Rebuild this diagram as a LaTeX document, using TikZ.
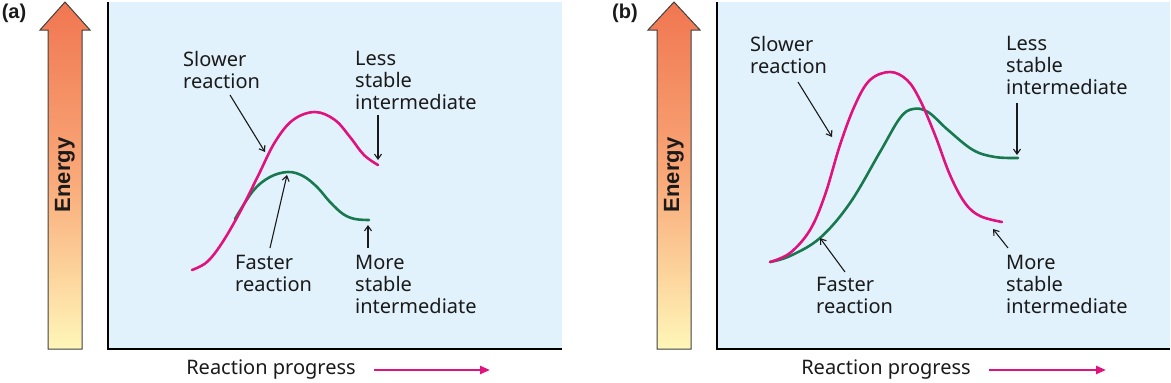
\documentclass[tikz,border=0pt]{standalone}
\usepackage{fontspec}
\setmainfont{Noto Sans}
\newfontfamily\boldfam{Liberation Sans}
\usetikzlibrary{arrows.meta,calc}
\definecolor{panelblue}{HTML}{E2F2FC}
\definecolor{magcurve}{HTML}{E0137E}
\definecolor{grncurve}{HTML}{18794F}
\definecolor{txt}{HTML}{1A1A1A}
\definecolor{entop}{HTML}{F07650}
\definecolor{enmid}{HTML}{F9A878}
\definecolor{enbot}{HTML}{FFF6B8}
\tikzset{
  lbl/.style={anchor=north west, inner sep=0pt, align=left, text=txt, font=\fontsize{20}{22}\selectfont},
  ptr/.style={draw=txt, line width=1.1pt, -{Straight Barb[length=5pt,width=7pt]}},
  mcurve/.style={draw=magcurve, line width=2.6pt, line cap=round, line join=round},
  gcurve/.style={draw=grncurve, line width=2.6pt, line cap=round, line join=round},
  axisline/.style={draw=black, line width=2pt},
  enarrow/.style={draw=black!75, line width=1pt, top color=entop, bottom color=enbot, middle color=enmid},
  entext/.style={rotate=90, inner sep=0pt, text=txt, font=\boldfam\bfseries\fontsize{22}{26}\selectfont},
  plabel/.style={inner sep=0pt, text=txt, font=\boldfam\bfseries\fontsize{20}{22}\selectfont},
  rptext/.style={inner sep=0pt, text=txt, font=\fontsize{20}{22}\selectfont},
  rparrow/.style={draw=magcurve, line width=2.6pt, -{Triangle[length=10pt,width=8pt]}}
}
\begin{document}
\begin{tikzpicture}[x=1pt,y=-1pt]
\useasboundingbox (0,0) rectangle (1171,383);
% ---------- panel (a) ----------
\node[plabel] (pa) at (14,13) {(a)};
\path[enarrow] (48,349) -- (48,30) -- (40,30) -- (65,2) -- (90,30) -- (82,30) -- (82,349) -- cycle;
\node[entext] (enA) at (65,175) {Energy};
\fill[panelblue] (108,2) rectangle (562,349);
\draw[axisline] (108,2) -- (108,349) -- (562,349);
% curves
\draw[gcurve] plot[smooth, tension=0.6] coordinates {(235,219) (253,191) (270,177) (288,172) (303,176) (317,187) (330,202) (343,214) (355,219) (369,220)};
\draw[mcurve] plot[smooth, tension=0.6] coordinates {(192,270) (207,262) (222,243) (240,212) (258,176) (275,142) (293,120) (315,112) (335,120) (350,137) (364,155) (378,165)};
% labels
\node[lbl] (slowA) at (183,51) {Slower\\reaction};
\node[lbl] (lessA) at (355,51) {Less\\stable\\intermediate};
\node[lbl] (fastA) at (235,255) {Faster\\reaction};
\node[lbl] (moreA) at (355,255) {More\\stable\\intermediate};
\coordinate (slowAend) at (265,152);
\coordinate (lessAend) at (378,160);
\coordinate (fastAend) at (287,175);
\coordinate (moreAend) at (368,225);
\draw[ptr] ([shift={(47,44)}]slowA.north west) -- (slowAend);
\draw[ptr] ([shift={(23,64)}]lessA.north west) -- (lessAend);
\draw[ptr] ([shift={(35,-7)}]fastA.north west) -- (fastAend);
\draw[ptr] ([shift={(13,-7)}]moreA.north west) -- (moreAend);
\node[rptext] (rpA) at (271,370) {Reaction progress};
\coordinate (rpAend) at (490,370);
\draw[rparrow] ([xshift=18pt]rpA.east) -- (rpAend);
% ---------- panel (b) ----------
\node[plabel] (pb) at (625,13) {(b)};
\path[enarrow] (657,349) -- (657,30) -- (648,30) -- (674,2) -- (700,30) -- (691,30) -- (691,349) -- cycle;
\node[entext] (enB) at (674,175) {Energy};
\fill[panelblue] (717,2) rectangle (1170,349);
\draw[axisline] (717,2) -- (717,349) -- (1170,349);
\draw[gcurve] plot[smooth, tension=0.6] coordinates {(770,262) (790,256) (820,238) (850,203) (880,152) (900,118) (913,109) (928,112) (948,130) (973,150) (995,157) (1018,158)};
\draw[mcurve] plot[smooth, tension=0.6] coordinates {(770,262) (790,253) (810,230) (825,195) (840,145) (855,105) (870,80) (890,72) (907,80) (920,100) (935,135) (950,175) (965,203) (980,216) (1002,222)};
\node[lbl] (slowB) at (750,36) {Slower\\reaction};
\node[lbl] (lessB) at (1006,36) {Less\\stable\\intermediate};
\node[lbl] (fastB) at (816,277) {Faster\\reaction};
\node[lbl] (moreB) at (1006,255) {More\\stable\\intermediate};
\coordinate (slowBend) at (832,137);
\coordinate (lessBend) at (1017,155);
\coordinate (fastBend) at (820,238);
\coordinate (moreBend) at (993,229);
\draw[ptr] ([shift={(48,46)}]slowB.north west) -- (slowBend);
\draw[ptr] ([shift={(11,67)}]lessB.north west) -- (lessBend);
\draw[ptr] ([shift={(29,-5)}]fastB.north west) -- (fastBend);
\draw[ptr] ([shift={(2,-7)}]moreB.north west) -- (moreBend);
\node[rptext] (rpB) at (886,370) {Reaction progress};
\coordinate (rpBend) at (1106,370);
\draw[rparrow] ([xshift=18pt]rpB.east) -- (rpBend);
\end{tikzpicture}
\end{document}
